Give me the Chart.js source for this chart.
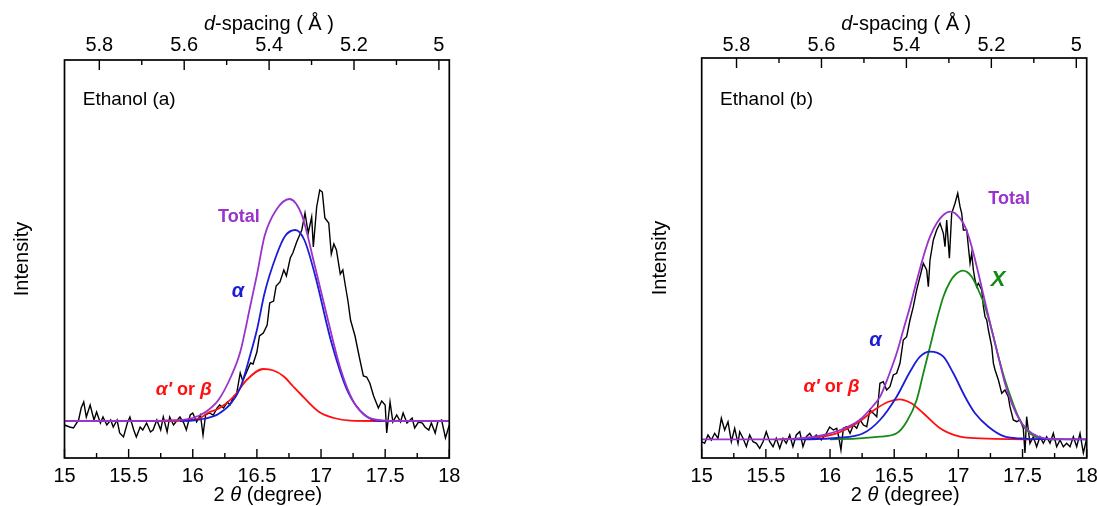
<!DOCTYPE html>
<html><head><meta charset="utf-8">
<script src="https://cdn.jsdelivr.net/npm/chart.js@4.4.1/dist/chart.umd.min.js"></script>
<style>
html,body{margin:0;padding:0;background:#fff;}
#wrap{position:relative;width:1097px;height:506px;overflow:hidden;}
#ca{position:absolute;left:0;top:0;}
#cb{position:absolute;left:548px;top:0;}
</style></head><body>
<div id="wrap"><canvas id="ca" width="548" height="506"></canvas><canvas id="cb" width="549" height="506"></canvas></div>
<script>
// ---------- axis ticks ----------
const twoThetaMajor = [15, 15.5, 16, 16.5, 17, 17.5, 18];
const twoThetaMinor = [15.25, 15.75, 16.25, 16.75, 17.25, 17.75];
const dSpacingMajor = [5.8, 5.6, 5.4, 5.2, 5.0];
const dSpacingMinor = [5.7, 5.5, 5.3, 5.1];
const dSpacingRange = [4.9755, 5.882];

// ---------- panel (a): [2θ, intensity] ----------
const a_observed = [[15.00,33],[15.04,31],[15.07,30],[15.11,38],[15.13,50],[15.15,56],[15.17,41],[15.20,53],[15.23,38],[15.25,46],[15.28,35],[15.30,41],[15.33,33],[15.36,38],[15.38,31],[15.41,38],[15.43,25],[15.46,21],[15.49,35],[15.51,41],[15.54,28],[15.56,21],[15.59,31],[15.61,28],[15.64,35],[15.67,26],[15.69,28],[15.72,38],[15.75,28],[15.77,41],[15.80,26],[15.82,41],[15.85,33],[15.88,38],[15.90,41],[15.93,35],[15.95,28],[15.98,43],[16.00,45],[16.03,36],[16.06,43],[16.08,23],[16.10,43],[16.13,45],[16.16,43],[16.19,50],[16.21,53],[16.24,50],[16.27,56],[16.29,53],[16.32,62],[16.34,63],[16.37,85],[16.39,77],[16.42,86],[16.45,95],[16.47,94],[16.50,106],[16.52,122],[16.55,125],[16.58,133],[16.60,155],[16.63,157],[16.65,172],[16.68,176],[16.71,188],[16.73,182],[16.76,200],[16.78,205],[16.81,216],[16.83,222],[16.85,228],[16.875,245],[16.90,225],[16.927,241],[16.94,211],[16.966,251],[16.99,268],[17.01,266],[17.03,240],[17.06,235],[17.08,204],[17.10,214],[17.12,208],[17.15,184],[17.17,188],[17.19,172],[17.21,157],[17.23,138],[17.265,122],[17.30,100],[17.33,82],[17.356,81],[17.38,75],[17.41,62],[17.447,50],[17.473,57],[17.50,53],[17.512,25],[17.538,56],[17.56,36],[17.59,43],[17.62,36],[17.64,45],[17.67,35],[17.71,40],[17.73,30],[17.76,36],[17.79,35],[17.81,31],[17.84,28],[17.86,35],[17.89,25],[17.91,36],[17.94,38],[17.97,20],[18.00,33]];
const a_total = [[15.0,37],[15.6,37],[15.8,37.5],[16.0,40],[16.1,46],[16.2,58],[16.3,82],[16.37,106],[16.45,153],[16.5,183],[16.56,222],[16.65,248],[16.753,259],[16.85,243],[16.95,193],[17.05,140],[17.15,90],[17.25,57],[17.35,42],[17.45,38],[17.6,37],[18.0,37]];
const a_alpha = [[15.9,37],[16.0,37.5],[16.1,39.5],[16.2,44],[16.3,55],[16.37,70],[16.45,104],[16.5,128],[16.56,165],[16.65,202],[16.72,222],[16.8,228],[16.87,218],[16.953,183],[17.08,116],[17.21,66],[17.34,43],[17.47,37],[17.6,37]];
const a_alphaPrime = [[15.5,37],[15.8,37],[15.98,38],[16.06,40],[16.11,44.5],[16.21,50],[16.32,61.5],[16.42,78],[16.55,89],[16.63,87.5],[16.71,81.5],[16.78,72],[16.84,64],[16.98,46.5],[17.1,40],[17.23,37.3],[17.4,37],[17.6,37]];

// ---------- panel (b): [2θ, intensity] ----------
const b_observed = [[15.00,16.3],[15.023,14.7],[15.049,23],[15.075,18],[15.101,24.7],[15.127,19.7],[15.153,39.7],[15.179,28],[15.205,36.3],[15.231,16.3],[15.257,29.7],[15.283,14.7],[15.296,26.3],[15.322,19.7],[15.348,11.3],[15.374,23],[15.40,16.3],[15.426,14.7],[15.452,9.7],[15.478,16.3],[15.503,26.3],[15.53,16.3],[15.556,11.3],[15.581,19.7],[15.608,9.7],[15.634,19.7],[15.659,14.7],[15.686,23],[15.711,11.3],[15.737,23],[15.764,26.3],[15.789,11.3],[15.815,21.3],[15.842,24.7],[15.867,19.7],[15.893,23],[15.932,18],[15.971,24.7],[15.997,31],[16.026,28],[16.052,29.7],[16.068,21],[16.085,8],[16.104,29.7],[16.13,31.3],[16.156,24.7],[16.182,33],[16.208,29.7],[16.234,38],[16.26,33],[16.286,31.3],[16.311,48],[16.337,44.7],[16.364,41.3],[16.389,74.7],[16.415,76.3],[16.441,68],[16.467,71.3],[16.493,83],[16.519,84.7],[16.545,94.7],[16.571,118],[16.597,121.3],[16.623,138],[16.649,151.3],[16.675,168],[16.701,181.3],[16.727,194.7],[16.753,188],[16.766,171.3],[16.779,198],[16.805,218],[16.831,228],[16.857,234.7],[16.883,224.7],[16.896,211.3],[16.909,238],[16.93,199.7],[16.948,244.7],[16.974,254.7],[16.995,264.7],[17.013,251.3],[17.026,244.7],[17.039,228],[17.065,228],[17.078,211.3],[17.091,194.7],[17.104,204.7],[17.117,188],[17.13,178],[17.143,171.3],[17.156,174.7],[17.182,168],[17.195,151.3],[17.208,141.3],[17.221,138],[17.234,128],[17.26,111.3],[17.273,94.7],[17.286,88],[17.312,78],[17.338,64.7],[17.363,68],[17.389,61.3],[17.402,51.3],[17.428,38],[17.455,36.3],[17.481,38],[17.506,29.7],[17.519,5],[17.532,41.3],[17.558,14.7],[17.584,21.3],[17.61,11.3],[17.636,21.3],[17.662,14.7],[17.688,21.3],[17.714,14.7],[17.74,24.7],[17.766,11.3],[17.792,18],[17.818,11.3],[17.844,14.7],[17.87,11.3],[17.896,21.3],[17.922,11.3],[17.948,24.7],[17.974,5],[18.0,19.7]];
const b_total = [[15.0,18.7],[15.6,18.7],[15.8,20],[15.95,23],[16.08,28],[16.23,38],[16.335,52],[16.39,61.3],[16.454,81.3],[16.519,104.7],[16.571,128],[16.623,151.3],[16.675,177],[16.727,201.3],[16.779,221.3],[16.831,234.7],[16.883,243],[16.935,246.3],[16.974,244.7],[17.052,231.3],[17.104,211.3],[17.156,184.7],[17.208,156],[17.26,128],[17.312,101.3],[17.363,74.7],[17.416,54.7],[17.494,34.7],[17.572,24.7],[17.675,19.7],[17.8,18.8],[18.0,18.7]];
const b_alpha = [[15.7,18.7],[15.9,19],[16.05,20],[16.259,24.7],[16.389,38],[16.519,61.3],[16.623,86.3],[16.701,101.3],[16.779,106.3],[16.883,101.3],[16.961,84.7],[17.052,61.3],[17.13,44.7],[17.234,31.3],[17.363,21.3],[17.494,19.5],[17.6,18.8],[18.0,18.7]];
const b_alphaPrime = [[15.6,18.7],[15.8,19.5],[16.052,24.7],[16.208,34.7],[16.364,49.7],[16.45,56],[16.54,58.7],[16.63,55],[16.727,44.7],[16.857,29.7],[17.013,21.3],[17.17,19.7],[17.4,18.8],[17.6,18.7]];
const b_X = [[16.0,18.7],[16.2,19.3],[16.389,21.3],[16.519,24.7],[16.597,36.3],[16.675,58],[16.727,84.7],[16.779,111.3],[16.831,138],[16.883,161.3],[16.935,176.3],[16.974,183],[17.035,187.3],[17.104,181.3],[17.156,168],[17.208,151.3],[17.26,128],[17.312,101.3],[17.363,78],[17.416,58],[17.467,41.3],[17.519,29.7],[17.597,21.3],[17.7,18.9],[17.8,18.7]];

// ---------- styling ----------
const FONT = "'Liberation Sans', Arial, Helvetica, sans-serif";
const C_PURPLE = '#9933cc', C_BLUE = '#1c1cd8', C_RED = '#ff1010', C_GREEN = '#168a16';

function xy(arr) { return arr.map(p => ({x: p[0], y: p[1]})); }

function drawParts(ctx, parts, cx, cy, align, color, baseline) {
  ctx.fillStyle = color;
  ctx.textBaseline = baseline || 'middle';
  ctx.textAlign = 'left';
  const widths = parts.map(p => { ctx.font = p[1] + ' ' + FONT; return ctx.measureText(p[0]).width; });
  const total = widths.reduce((s, w) => s + w, 0);
  let xx = align === 'left' ? cx : cx - total / 2;
  parts.forEach((p, i) => { ctx.font = p[1] + ' ' + FONT; ctx.fillText(p[0], xx, cy); xx += widths[i]; });
}

function decorPlugin(notes) {
  return {
    id: 'decor',
    afterDatasetsDraw(chart) {
      const {ctx, chartArea: a, scales} = chart;
      const x = scales.x, x2 = scales.x2, y = scales.y;
      ctx.save();
      ctx.strokeStyle = '#000';
      ctx.lineWidth = 1.7;
      ctx.strokeRect(a.left, a.top, a.right - a.left, a.bottom - a.top);
      ctx.lineWidth = 1.4;
      ctx.beginPath();
      twoThetaMajor.forEach(v => { const p = x.getPixelForValue(v); ctx.moveTo(p, a.bottom); ctx.lineTo(p, a.bottom - 9); });
      twoThetaMinor.forEach(v => { const p = x.getPixelForValue(v); ctx.moveTo(p, a.bottom); ctx.lineTo(p, a.bottom - 5); });
      dSpacingMajor.forEach(v => { const p = x2.getPixelForValue(v); ctx.moveTo(p, a.top); ctx.lineTo(p, a.top + 10); });
      dSpacingMinor.forEach(v => { const p = x2.getPixelForValue(v); ctx.moveTo(p, a.top); ctx.lineTo(p, a.top + 5); });
      ctx.stroke();
      notes.forEach(n => drawParts(ctx, n.parts, x.getPixelForValue(n.t), y.getPixelForValue(n.v), n.align, n.color));
      const mid = (a.left + a.right) / 2;
      drawParts(ctx, [['d', 'italic 20px'], ['-spacing ( \u00C5 )', '20px']], mid + 12, 30, 'center', '#000', 'alphabetic');
      drawParts(ctx, [['2 ', '20px'], ['\u03B8', 'italic 20px'], [' (degree)', '20px']], mid + 11, 501, 'center', '#000', 'alphabetic');
      ctx.restore();
    }
  };
}

function lineDs(label, data, color, order, width, smooth) {
  return {
    label, data: xy(data), borderColor: color, backgroundColor: color,
    borderWidth: width, pointRadius: 0, fill: false, order,
    tension: 0, cubicInterpolationMode: smooth ? 'monotone' : 'default'
  };
}

function makePanel(canvasId, p) {
  return new Chart(document.getElementById(canvasId), {
    type: 'line',
    data: { datasets: p.datasets },
    options: {
      responsive: false, animation: false, devicePixelRatio: 1, events: [],
      layout: { padding: { left: 0, right: p.padRight, top: 0, bottom: 0 } },
      plugins: { legend: { display: false }, tooltip: { enabled: false } },
      scales: {
        x: {
          type: 'linear', position: 'bottom', min: 15, max: 18,
          afterBuildTicks(s) { s.ticks = twoThetaMajor.map(v => ({value: v})); },
          ticks: { font: { family: FONT, size: 20 }, color: '#000', padding: 6, maxRotation: 0, autoSkip: false,
                   callback: v => String(+Number(v).toFixed(2)) },
          grid: { display: false, drawTicks: false }, border: { display: false },
          afterFit(s) { s.height = 48; s.paddingLeft = 0; s.paddingRight = 0; }
        },
        x2: {
          type: 'linear', position: 'top', reverse: true, min: dSpacingRange[0], max: dSpacingRange[1],
          afterBuildTicks(s) { s.ticks = dSpacingMajor.map(v => ({value: v})); },
          ticks: { font: { family: FONT, size: 20 }, color: '#000', padding: p.topPad, maxRotation: 0, autoSkip: false,
                   callback: v => String(+Number(v).toFixed(1)) },
          grid: { display: false, drawTicks: false }, border: { display: false },
          afterFit(s) { s.height = p.topH; s.paddingLeft = 0; s.paddingRight = 0; }
        },
        y: {
          type: 'linear', position: 'left', min: 0, max: p.yMax,
          ticks: { display: false }, grid: { display: false, drawTicks: false }, border: { display: false },
          title: { display: true, text: 'Intensity', color: '#000', font: { family: FONT, size: 20 },
                   padding: { top: p.yTitlePad, bottom: 0 } },
          afterFit(s) { s.width = p.yW; s.paddingTop = 0; s.paddingBottom = 0; }
        }
      }
    },
    plugins: [decorPlugin(p.notes)]
  });
}

makePanel('ca', {
  yMax: 398, yW: 64.5, padRight: 98.7, topH: 60, topPad: 3, yTitlePad: 10,
  datasets: [
    lineDs('Total', a_total, C_PURPLE, 1, 1.8, true),
    lineDs('\u03B1', a_alpha, C_BLUE, 2, 1.8, true),
    lineDs("\u03B1' or \u03B2", a_alphaPrime, C_RED, 3, 1.8, true),
    lineDs('Observed', a_observed, '#000', 10, 1.4, false)
  ],
  notes: [
    { t: 15.142, v: 358, align: 'left', color: '#000', parts: [['Ethanol (a)', '19px']] },
    { t: 16.36, v: 241, align: 'center', color: C_PURPLE, parts: [['Total', 'bold 18px']] },
    { t: 16.353, v: 167, align: 'center', color: C_BLUE, parts: [['\u03B1', 'italic bold 20px']] },
    { t: 15.93, v: 68, align: 'center', color: C_RED, parts: [["\u03B1'", 'italic bold 19px'], [' or ', 'bold 18px'], ['\u03B2', 'italic bold 19px']] }
  ]
});

makePanel('cb', {
  yMax: 400, yW: 153.7, padRight: 10.3, topH: 58, topPad: 1, yTitlePad: 100,
  datasets: [
    lineDs('Total', b_total, C_PURPLE, 1, 1.8, true),
    lineDs('\u03B1', b_alpha, C_BLUE, 2, 1.8, true),
    lineDs('X', b_X, C_GREEN, 2, 1.8, true),
    lineDs("\u03B1' or \u03B2", b_alphaPrime, C_RED, 3, 1.8, true),
    lineDs('Observed', b_observed, '#000', 10, 1.4, false)
  ],
  notes: [
    { t: 15.143, v: 358, align: 'left', color: '#000', parts: [['Ethanol (b)', '19px']] },
    { t: 17.395, v: 259, align: 'center', color: C_PURPLE, parts: [['Total', 'bold 18px']] },
    { t: 16.354, v: 118, align: 'center', color: C_BLUE, parts: [['\u03B1', 'italic bold 20px']] },
    { t: 16.011, v: 71, align: 'center', color: C_RED, parts: [["\u03B1'", 'italic bold 19px'], [' or ', 'bold 18px'], ['\u03B2', 'italic bold 19px']] },
    { t: 17.309, v: 178, align: 'center', color: C_GREEN, parts: [['X', 'italic bold 22px']] }
  ]
});
</script>
</body></html>
